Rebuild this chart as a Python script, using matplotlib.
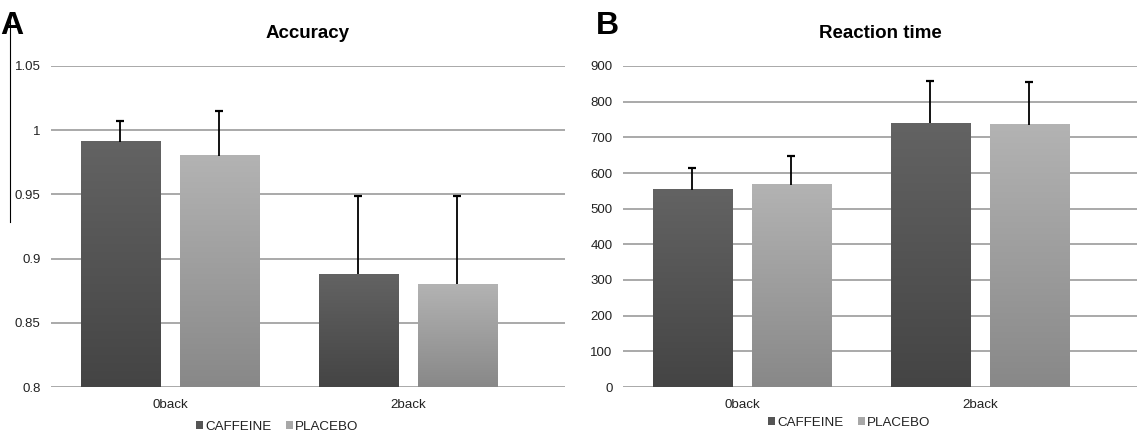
import matplotlib
matplotlib.use("Agg")
import matplotlib.pyplot as plt
import numpy as np
from matplotlib.patches import Patch
from matplotlib.lines import Line2D
from matplotlib.colors import LinearSegmentedColormap

plt.rcParams['font.family'] = ['Liberation Sans', 'DejaVu Sans']

categories = ['0back', '2back']
series = ['CAFFEINE', 'PLACEBO']

acc_caffeine = [0.991, 0.888]
acc_caffeine_err = [0.016, 0.061]
acc_placebo = [0.980, 0.880]
acc_placebo_err = [0.035, 0.069]

rt_caffeine = [553, 739]
rt_caffeine_err = [62, 119]
rt_placebo = [567, 735]
rt_placebo_err = [80, 119]

acc_ticks = [0.8, 0.85, 0.9, 0.95, 1.0, 1.05]
rt_ticks = [0, 100, 200, 300, 400, 500, 600, 700, 800, 900]

cmap_caf = LinearSegmentedColormap.from_list('caf', ['#444444', '#636363'])
cmap_pla = LinearSegmentedColormap.from_list('pla', ['#888888', '#b3b3b3'])

fig = plt.figure(figsize=(11.37, 4.34), dpi=100)
W, H = 1137, 434
ax1 = fig.add_axes([51 / W, 1 - 387 / H, 514 / W, 321 / H])
ax2 = fig.add_axes([623 / W, 1 - 387 / H, 514 / W, 321 / H])


def draw(ax, caf, caf_err, pla, pla_err, ticks, title, fmt, leg_y):
    x = np.arange(len(categories))
    ymin, ymax = ticks[0], ticks[-1]
    for y in ticks:
        ax.axhline(y, color='#a3a3a3', lw=1.3, zorder=0)
    off = 0.208
    w = 0.332
    grad = np.linspace(0, 1, 256).reshape(-1, 1)
    for vals, errs, dx, cmap in [(caf, caf_err, -off, cmap_caf), (pla, pla_err, off, cmap_pla)]:
        bars = ax.bar(x + dx, np.array(vals) - ymin, width=w, bottom=ymin,
                      color='none', edgecolor='none', zorder=2)
        for b in bars:
            x0, y0 = b.get_x(), b.get_y()
            ax.imshow(grad, cmap=cmap, origin='lower', aspect='auto',
                      extent=[x0, x0 + b.get_width(), y0, y0 + b.get_height()],
                      zorder=2, interpolation='bilinear')
        tops = np.array(vals) + np.array(errs)
        ax.vlines(x + dx, vals, tops, color='black', lw=1.3, zorder=3)
        ax.plot(x + dx, tops, linestyle='none', marker='_', markersize=6,
                markeredgewidth=1.6, color='black', zorder=3)
    ax.set_xlim(-0.5, 1.66)
    ax.set_ylim(ymin, ymax)
    ax.set_xticks(x)
    ax.set_xticklabels(categories, fontsize=9.6, color='#222222')
    ax.set_yticks(ticks)
    ax.set_yticklabels([fmt(t) for t in ticks], fontsize=9.5, color='#222222')
    ax.tick_params(axis='y', length=0, pad=7.6)
    ax.tick_params(axis='x', length=0, pad=9)
    for s in ax.spines.values():
        s.set_visible(False)
    ax.set_title(title, fontsize=13.5, fontweight='bold', pad=20)
    handles = [Patch(facecolor='#555555'), Patch(facecolor='#a8a8a8')]
    leg = ax.legend(handles, series, loc='center', bbox_to_anchor=(0.44, leg_y),
                    ncol=2, frameon=False, fontsize=9.6, handlelength=0.55, handleheight=0.55,
                    handletextpad=0.15, columnspacing=1.1, borderpad=0.1)
    for t in leg.get_texts():
        t.set_color('#222222')


draw(ax1, acc_caffeine, acc_caffeine_err, acc_placebo, acc_placebo_err, acc_ticks,
     'Accuracy', lambda t: f'{t:g}', -0.124)
draw(ax2, rt_caffeine, rt_caffeine_err, rt_placebo, rt_placebo_err, rt_ticks,
     'Reaction time', lambda t: f'{t:g}', -0.112)

fig.text(0.0, 1 - 26 / H, 'A', fontsize=23, fontweight='bold', ha='left', va='center')
fig.text(596 / W, 1 - 26 / H, 'B', fontsize=23, fontweight='bold', ha='left', va='center')
fig.add_artist(Line2D([10 / W, 10 / W], [1 - 13 / H, 1 - 222 / H], color='black', lw=0.8,
                      transform=fig.transFigure))

fig.savefig('out.png', dpi=100)
